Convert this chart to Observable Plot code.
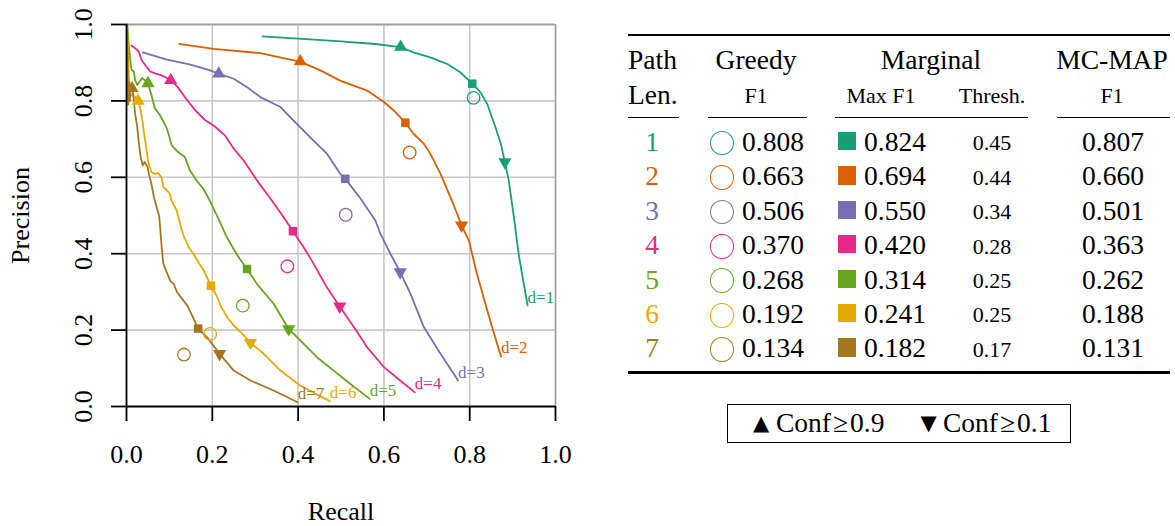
<!DOCTYPE html>
<html><head><meta charset="utf-8">
<script src="https://cdn.jsdelivr.net/npm/d3@7"></script>
<script src="https://cdn.jsdelivr.net/npm/@observablehq/plot@0.6"></script>
<style>
body{margin:0;background:#fff;}
#page{position:relative;width:1175px;height:526px;font-family:"Liberation Serif","Times New Roman",serif;color:#000;overflow:hidden;background:#fff}
#chart{position:absolute;left:0;top:0}
.t{position:absolute;line-height:1;white-space:nowrap;transform:translate(-50%,-50%)}
.rule{position:absolute;background:#000}
</style></head><body><div id="page"><div id="chart"></div><div id="table"></div></div>
<script>
// ---------- data ----------
const pathLen = [1, 2, 3, 4, 5, 6, 7];
const colors = ["#1b9e77", "#d95f02", "#7570b3", "#e7298a", "#66a61e", "#e6ab02", "#a6761d"];
const greedyF1 = [0.808, 0.663, 0.506, 0.370, 0.268, 0.192, 0.134];
const marginalMaxF1 = [0.824, 0.694, 0.550, 0.420, 0.314, 0.241, 0.182];
const marginalThresh = [0.45, 0.44, 0.34, 0.28, 0.25, 0.25, 0.17];
const mcmapF1 = [0.807, 0.660, 0.501, 0.363, 0.262, 0.188, 0.131];
const xTicks = [0, 0.2, 0.4, 0.6, 0.8, 1.0];
const yTicks = [0, 0.2, 0.4, 0.6, 0.8, 1.0];

// precision-recall curves: [recall, precision]
const curveD1 = [[0.317,0.969],[0.40,0.963],[0.50,0.956],[0.58,0.949],[0.639,0.941],[0.669,0.927],[0.708,0.914],[0.747,0.897],[0.778,0.875],[0.806,0.845],[0.825,0.823],[0.841,0.792],[0.860,0.731],[0.872,0.690],[0.882,0.640],[0.891,0.592],[0.903,0.496],[0.914,0.400],[0.926,0.321],[0.935,0.264]];
const curveD2 = [[0.123,0.949],[0.203,0.936],[0.312,0.925],[0.374,0.910],[0.405,0.903],[0.452,0.880],[0.498,0.853],[0.561,0.827],[0.600,0.797],[0.623,0.775],[0.650,0.743],[0.669,0.714],[0.693,0.688],[0.708,0.662],[0.732,0.609],[0.755,0.548],[0.771,0.504],[0.781,0.474],[0.798,0.435],[0.817,0.347],[0.841,0.251],[0.857,0.190],[0.873,0.131]];
const curveD3 = [[0.038,0.927],[0.094,0.908],[0.149,0.895],[0.195,0.880],[0.215,0.871],[0.250,0.858],[0.281,0.836],[0.312,0.810],[0.359,0.784],[0.397,0.740],[0.436,0.696],[0.467,0.662],[0.498,0.609],[0.510,0.596],[0.545,0.545],[0.580,0.487],[0.592,0.452],[0.615,0.400],[0.638,0.352],[0.662,0.295],[0.693,0.208],[0.732,0.138],[0.773,0.068]];
const curveD4 = [[0.011,0.945],[0.020,0.938],[0.028,0.930],[0.036,0.905],[0.045,0.892],[0.055,0.877],[0.067,0.872],[0.079,0.868],[0.091,0.862],[0.103,0.854],[0.118,0.838],[0.138,0.807],[0.160,0.776],[0.183,0.750],[0.206,0.733],[0.230,0.709],[0.250,0.675],[0.273,0.644],[0.304,0.592],[0.335,0.545],[0.366,0.496],[0.388,0.459],[0.413,0.417],[0.436,0.374],[0.467,0.312],[0.497,0.262],[0.530,0.208],[0.561,0.155],[0.600,0.103],[0.638,0.068],[0.672,0.037]];
const curveD5 = [[0.002,1.0],[0.005,0.95],[0.009,0.903],[0.012,0.881],[0.017,0.877],[0.020,0.855],[0.025,0.842],[0.031,0.851],[0.036,0.860],[0.042,0.855],[0.050,0.846],[0.058,0.816],[0.066,0.781],[0.078,0.763],[0.086,0.746],[0.094,0.728],[0.100,0.706],[0.105,0.684],[0.120,0.666],[0.136,0.653],[0.148,0.618],[0.163,0.592],[0.179,0.570],[0.190,0.548],[0.203,0.518],[0.216,0.487],[0.234,0.443],[0.256,0.400],[0.270,0.377],[0.281,0.360],[0.304,0.321],[0.343,0.269],[0.378,0.203],[0.405,0.173],[0.444,0.129],[0.483,0.094],[0.522,0.059],[0.567,0.020]];
const curveD6 = [[0.001,1.0],[0.003,0.95],[0.005,0.88],[0.008,0.82],[0.012,0.815],[0.020,0.81],[0.027,0.800],[0.033,0.776],[0.037,0.749],[0.041,0.714],[0.046,0.679],[0.050,0.644],[0.054,0.627],[0.058,0.614],[0.066,0.609],[0.074,0.611],[0.082,0.599],[0.086,0.574],[0.094,0.566],[0.101,0.557],[0.105,0.539],[0.117,0.513],[0.125,0.478],[0.133,0.447],[0.145,0.417],[0.156,0.400],[0.168,0.377],[0.180,0.356],[0.197,0.316],[0.210,0.290],[0.220,0.262],[0.235,0.233],[0.250,0.212],[0.270,0.190],[0.289,0.167],[0.320,0.138],[0.359,0.094],[0.405,0.055],[0.474,0.014]];
const curveD7 = [[0.001,1.0],[0.002,0.92],[0.003,0.84],[0.004,0.79],[0.006,0.85],[0.008,0.80],[0.010,0.84],[0.013,0.833],[0.016,0.815],[0.020,0.767],[0.025,0.732],[0.028,0.697],[0.033,0.653],[0.038,0.631],[0.042,0.640],[0.049,0.627],[0.052,0.609],[0.058,0.583],[0.064,0.548],[0.070,0.522],[0.076,0.500],[0.079,0.461],[0.082,0.417],[0.086,0.373],[0.094,0.351],[0.102,0.329],[0.110,0.321],[0.118,0.299],[0.130,0.281],[0.142,0.264],[0.153,0.238],[0.167,0.204],[0.188,0.181],[0.217,0.138],[0.250,0.094],[0.289,0.068],[0.343,0.042],[0.399,0.011]];
const curves = [curveD1, curveD2, curveD3, curveD4, curveD5, curveD6, curveD7];

// markers (recall, precision)
const confHighR = [0.639, 0.405, 0.215, 0.103, 0.050, 0.027, 0.013];
const confHighP = [0.941, 0.903, 0.871, 0.854, 0.846, 0.800, 0.833];
const maxF1R = [0.806, 0.650, 0.510, 0.388, 0.281, 0.197, 0.167];
const maxF1P = [0.845, 0.743, 0.596, 0.459, 0.360, 0.316, 0.204];
const confLowR = [0.882, 0.781, 0.638, 0.497, 0.378, 0.289, 0.217];
const confLowP = [0.640, 0.474, 0.352, 0.262, 0.203, 0.167, 0.138];
const greedyR = [0.809, 0.660, 0.511, 0.375, 0.271, 0.195, 0.134];
const greedyP = [0.808, 0.665, 0.502, 0.367, 0.264, 0.190, 0.136];

// ---------- derived tables ----------
const lineData = curves.flatMap((c, i) => c.map(([r, p]) => ({d: pathLen[i], r, p})));
const mk = (R, P) => pathLen.map((d, i) => ({d, r: R[i], p: P[i]}));
const ups = mk(confHighR, confHighP), squares = mk(maxF1R, maxF1P),
      downs = mk(confLowR, confLowP), circles = mk(greedyR, greedyP);
const labels = curves.map((c, i) => ({d: pathLen[i], r: c[c.length-1][0], p: c[c.length-1][1], t: "d=" + pathLen[i]}));
const grid = [0.2, 0.4, 0.6, 0.8];
const f1 = d3.format(".1f");

const chart = Plot.plot({
  width: 600, height: 526,
  marginLeft: 126, marginRight: 45, marginTop: 24, marginBottom: 120,
  x: {domain: [0, 1], label: null},
  y: {domain: [0, 1], label: null},
  color: {type: "ordinal", domain: pathLen, range: colors},
  style: {fontFamily: "Liberation Serif, Times New Roman, serif", background: "white", overflow: "visible"},
  marks: [
    Plot.ruleX(grid, {stroke: "#c8c8c8", strokeWidth: 1.6}),
    Plot.ruleY(grid, {stroke: "#c8c8c8", strokeWidth: 1.6}),
    Plot.ruleX([1], {stroke: "#a0a0a0", strokeWidth: 1.8}),
    Plot.ruleY([1], {stroke: "#a0a0a0", strokeWidth: 1.8}),
    Plot.line(lineData, {x: "r", y: "p", z: "d", stroke: "d", strokeWidth: 1.8}),
    Plot.dot(circles, {x: "r", y: "p", stroke: "d", fill: "none", r: 6.3, strokeWidth: 1.3}),
    Plot.dot(squares, {x: "r", y: "p", fill: "d", symbol: "square", r: 4.8}),
    Plot.dot(ups, {x: "r", y: "p", fill: "d", symbol: "triangle", r: 4.9}),
    Plot.dot(downs, {x: "r", y: "p", fill: "d", symbol: "triangle", r: 4.9, rotate: 180}),
    Plot.text(labels, {x: "r", y: "p", text: "t", fill: "d", textAnchor: "start", lineAnchor: "bottom", dy: -3, fontSize: 17}),
    Plot.ruleX([0], {stroke: "black", strokeWidth: 1.8}),
    Plot.ruleY([0], {stroke: "black", strokeWidth: 1.8}),
    Plot.axisX({ticks: xTicks, tickSize: 15, tickFormat: () => "", strokeWidth: 1.8, label: null}),
    Plot.axisY({ticks: yTicks, tickSize: 15, tickFormat: () => "", strokeWidth: 1.8, label: null}),
    Plot.text(xTicks, {x: d => d, frameAnchor: "bottom", dy: 48, text: d => f1(d), fontSize: 26, textAnchor: "middle", lineAnchor: "middle"}),
    Plot.text(yTicks, {y: d => d, frameAnchor: "left", dx: -43, text: d => f1(d), fontSize: 26, rotate: -90, textAnchor: "middle", lineAnchor: "middle"}),
    Plot.text(["Recall"], {frameAnchor: "bottom", dy: 105, fontSize: 26, textAnchor: "middle", lineAnchor: "middle"}),
    Plot.text(["Precision"], {frameAnchor: "left", dx: -106, fontSize: 26, rotate: -90, textAnchor: "middle", lineAnchor: "middle"})
  ]
});
document.getElementById("chart").appendChild(chart);

// ---------- table ----------
const tbl = document.getElementById("table");
function put(txt, x, y, size, opts = {}) {
  const s = document.createElement("div");
  s.className = "t";
  s.textContent = txt;
  s.style.left = x + "px"; s.style.top = y + "px"; s.style.fontSize = size + "px";
  if (opts.color) s.style.color = opts.color;
  if (opts.left) s.style.transform = "translate(0,-50%)";
  if (opts.family) s.style.fontFamily = opts.family;
  tbl.appendChild(s); return s;
}
function rule(x0, x1, y, h) {
  const r = document.createElement("div"); r.className = "rule";
  r.style.left = x0 + "px"; r.style.width = (x1 - x0) + "px";
  r.style.top = (y - h / 2) + "px"; r.style.height = h + "px";
  tbl.appendChild(r);
}
const BIG = 27.5, SMALL = 22;
rule(628, 1170, 35, 2.6);
put("Path", 628, 60, BIG, {left: true});
put("Len.", 628, 95, BIG, {left: true});
put("Greedy", 756, 60, BIG);
put("F1", 756, 96, SMALL);
put("Marginal", 931, 60, BIG);
put("Max F1", 881, 96, SMALL);
put("Thresh.", 992, 96, SMALL);
put("MC-MAP", 1112, 60, BIG);
put("F1", 1112, 96, SMALL);
rule(628, 679, 117.5, 1.5);
rule(708, 807, 117.5, 1.5);
rule(835, 1028, 117.5, 1.5);
rule(1057, 1170, 117.5, 1.5);
const f3 = d3.format(".3f"), f2 = d3.format(".2f");
pathLen.forEach((d, i) => {
  const y = 141.7 + i * 34.45;
  const c = colors[i];
  put(String(d), 652, y, BIG, {color: c});
  const circ = document.createElement("div");
  Object.assign(circ.style, {position: "absolute", left: (722 - 12.4) + "px", top: (y + 1.5 - 12.6) + "px",
    width: "22.4px", height: "22.8px", border: "1.2px solid " + c, borderRadius: "50%"});
  tbl.appendChild(circ);
  put(f3(greedyF1[i]), 742, y, BIG, {left: true});
  const sq = document.createElement("div");
  Object.assign(sq.style, {position: "absolute", left: (847 - 9.2) + "px", top: (y - 0.8 - 9.2) + "px",
    width: "18.4px", height: "18.4px", background: c});
  tbl.appendChild(sq);
  put(f3(marginalMaxF1[i]), 864, y, BIG, {left: true});
  put(f2(marginalThresh[i]), 992, y + 1.5, SMALL);
  put(f3(mcmapF1[i]), 1113, y, BIG);
});
rule(628, 1170, 372.5, 2.6);

// legend box
const box = document.createElement("div");
Object.assign(box.style, {position: "absolute", left: "727px", top: "404px", width: "342px", height: "37px",
  border: "1.3px solid #000"});
tbl.appendChild(box);
put("\u25B2", 761, 423, 21, {family: "DejaVu Sans"});
const l1 = put("", 776, 423, BIG, {left: true});
l1.innerHTML = 'Conf<span style="padding:0 2px">\u2265</span>0.9';
put("\u25BC", 928.5, 423, 21, {family: "DejaVu Sans"});
const l2 = put("", 943, 423, BIG, {left: true});
l2.innerHTML = 'Conf<span style="padding:0 2px">\u2265</span>0.1';
</script></body></html>
